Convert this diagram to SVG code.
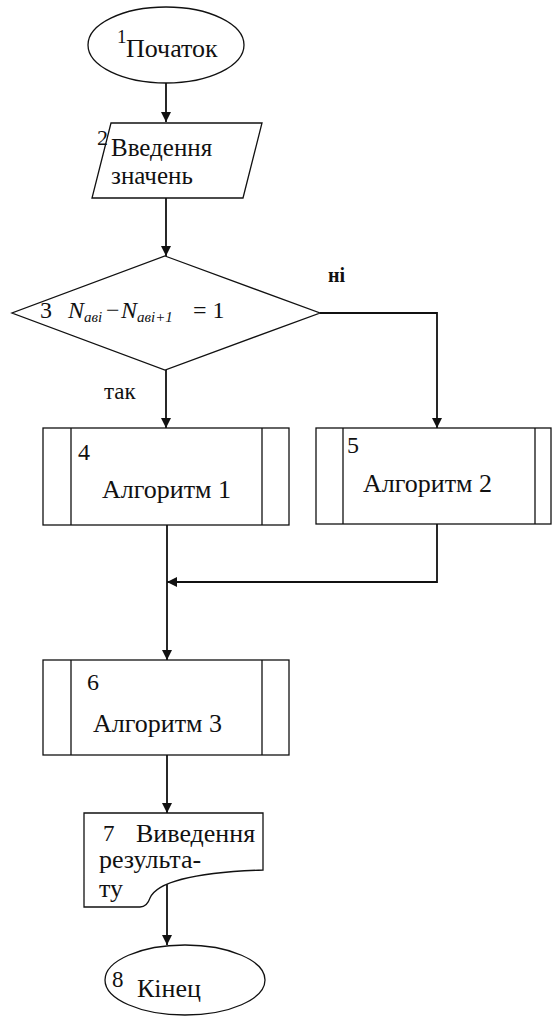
<svg xmlns="http://www.w3.org/2000/svg" width="552" height="1021" viewBox="0 0 552 1021">
<defs>
<style>
.s{fill:#fff;stroke:#111;stroke-width:1.3}
.c{fill:none;stroke:#111;stroke-width:1.8}
text{font-family:'Liberation Serif','DejaVu Serif',serif;fill:#111}
.m{font-size:26px}
.i{font-style:italic}
</style>
<marker id="ah" viewBox="0 0 10 10" refX="10" refY="5" markerWidth="10" markerHeight="10" markerUnits="userSpaceOnUse" orient="auto">
<path d="M0,0 L10,5 L0,10 Z" fill="#111"/>
</marker>
</defs>
<rect width="552" height="1021" fill="#fff"/>
<g id="connectors">
<path class="c" d="M166,83 V122" marker-end="url(#ah)"/>
<path class="c" d="M166,198 V256" marker-end="url(#ah)"/>
<path class="c" d="M166,370 V428" marker-end="url(#ah)"/>
<path class="c" d="M320,313 H437 V428" marker-end="url(#ah)"/>
<path class="c" d="M437,524 V582 H167" marker-end="url(#ah)"/>
<path class="c" d="M167,525 V660" marker-end="url(#ah)"/>
<path class="c" d="M167,755 V813" marker-end="url(#ah)"/>
<path class="c" d="M167,884 V945" marker-end="url(#ah)"/>
<text x="328" y="282" font-size="20" font-weight="bold">ні</text>
<text x="104" y="399" font-size="23">так</text>
</g>
<g id="n1">
<ellipse class="s" cx="166" cy="45" rx="78" ry="38"/>
<text x="117" y="43" font-size="19">1</text>
<text class="m" x="126" y="57">Початок</text>
</g>
<g id="n2">
<path class="s" d="M111,123 H262 L243,198 H92 Z"/>
<text x="97" y="145" font-size="22">2</text>
<text x="111" y="156" font-size="25">Введення</text>
<text x="111" y="184" font-size="25">значень</text>
</g>
<g id="n3">
<path class="s" d="M165,256 L320,313 L165,370 L12,313 Z"/>
<text x="40" y="318" font-size="24">3</text>
<text y="318" font-size="24"><tspan class="i" x="68">N</tspan><tspan class="i" font-size="15" dy="4">aвi</tspan><tspan dy="-4" x="106">−</tspan><tspan class="i" x="121">N</tspan><tspan class="i" font-size="15" dy="4">aвi+1</tspan><tspan dy="-4" x="193">= 1</tspan></text>
</g>
<g id="n4">
<rect class="s" x="43" y="428" width="246" height="97"/>
<path class="s" d="M71,428 V525 M262,428 V525"/>
<text x="78" y="460" font-size="24">4</text>
<text class="m" x="102" y="498">Алгоритм 1</text>
</g>
<g id="n5">
<rect class="s" x="316" y="428" width="235" height="96"/>
<path class="s" d="M343,428 V524 M535,428 V524"/>
<text x="347" y="453" font-size="24">5</text>
<text class="m" x="363" y="492">Алгоритм 2</text>
</g>
<g id="n6">
<rect class="s" x="43" y="660" width="246" height="95"/>
<path class="s" d="M71,660 V755 M262,660 V755"/>
<text x="87" y="690" font-size="24">6</text>
<text class="m" x="93" y="732">Алгоритм 3</text>
</g>
<g id="n7">
<path class="s" d="M84,813 H263 V870 C205,872 158,880 150,898 Q147,907 140,907 H84 Z"/>
<text x="103" y="841" font-size="23">7</text>
<text class="m" x="136" y="842">Виведення</text>
<text class="m" x="99" y="868">результа-</text>
<text class="m" x="99" y="897">ту</text>
</g>
<g id="n8">
<ellipse class="s" cx="185" cy="980" rx="80" ry="35"/>
<text x="112" y="987" font-size="23">8</text>
<text class="m" x="137" y="997">Кінец</text>
</g>
</svg>
